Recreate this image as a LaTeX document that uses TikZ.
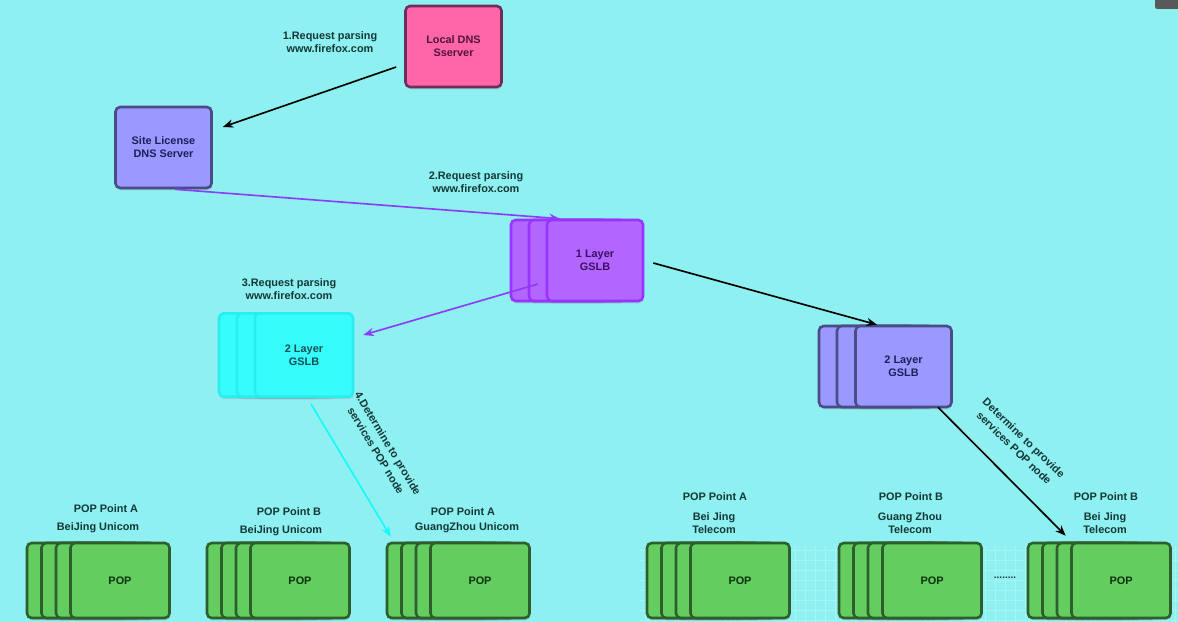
\documentclass[tikz,border=0pt]{standalone}
\usepackage{fontspec}
\setmainfont{Liberation Sans}
\usetikzlibrary{arrows.meta,calc,shadows}
\definecolor{bg}{RGB}{142,240,240}
\definecolor{gridc}{RGB}{165,245,245}
\definecolor{pinkf}{RGB}{255,102,168}
\definecolor{pinkd}{RGB}{110,45,90}
\definecolor{pinkt}{RGB}{80,20,60}
\definecolor{bluef}{RGB}{153,153,255}
\definecolor{blued}{RGB}{75,75,135}
\definecolor{bluet}{RGB}{30,30,90}
\definecolor{purf}{RGB}{178,102,255}
\definecolor{purd}{RGB}{153,51,255}
\definecolor{purt}{RGB}{60,15,100}
\definecolor{cyanf}{RGB}{55,252,252}
\definecolor{cyand}{RGB}{40,238,242}
\definecolor{cyant}{RGB}{20,80,80}
\definecolor{greenf}{RGB}{100,205,95}
\definecolor{greend}{RGB}{45,95,45}
\definecolor{greent}{RGB}{15,50,15}
\definecolor{lbl}{RGB}{20,55,55}
\definecolor{arrp}{RGB}{140,60,250}
\definecolor{arrc}{RGB}{20,250,250}
\begin{document}
\begin{tikzpicture}[x=0.03cm,y=-0.03cm,
  font=\fontsize{9.3}{11}\selectfont\bfseries,
  box/.style={draw, line width=2.2pt, rounded corners=4pt, align=center,
    minimum width=2.88cm, minimum height=2.43cm, inner sep=2pt,
    drop shadow={opacity=0.25, shadow xshift=0.6pt, shadow yshift=-2pt}},
  pinkbox/.style={box, fill=pinkf, draw=pinkd, text=pinkt},
  bluebox/.style={box, fill=bluef, draw=blued, text=bluet},
  purbox/.style={box, fill=purf, draw=purd, text=purt},
  cyanbox/.style={box, fill=cyanf, draw=cyand, text=cyant, minimum width=2.94cm, minimum height=2.5cm},
  popbox/.style={box, fill=greenf, draw=greend, text=greent, minimum width=2.97cm, minimum height=2.25cm},
  lab/.style={text=lbl, align=center, inner sep=1pt},
  rlab/.style={lab, font=\fontsize{9.3}{12}\selectfont\bfseries},
  arr/.style={line width=1.4pt, -{Stealth[length=9pt,width=7pt]}},
]
\useasboundingbox (0,0) rectangle (1178,622);
\begin{scope}
\clip (0,0) rectangle (1178,622);
% background
\fill[bg] (0,0) rectangle (1178,622);
\foreach \gx in {645,655,...,1175} \draw[gridc, line width=0.4pt] (\gx,546) -- (\gx,622);
\foreach \gy in {550,560,...,620} \draw[gridc, line width=0.4pt] (640,\gy) -- (1178,\gy);
\fill[black!65, rounded corners=2pt] (1155,-5) rectangle (1185,9);
\end{scope}

% DNS servers
\node[pinkbox] (ldns) at (453.5,46.5) {Local DNS\\Sserver};
\node[bluebox] (site) at (163.5,147.5) {Site License\\DNS Server};

% 1 Layer GSLB stack
\node[purbox] (l1c) at (559,260.5) {};
\node[purbox] (l1b) at (577,260.5) {};
\node[purbox] (l1a) at (595,260.5) {1 Layer\\GSLB};

% 2 Layer GSLB (cyan) stack
\node[cyanbox] (c2c) at (268,355) {};
\node[cyanbox] (c2b) at (286,355) {};
\node[cyanbox] (c2a) at (304,355) {2 Layer\\GSLB};

% 2 Layer GSLB (right) stack
\node[bluebox] (r2c) at (867,366.5) {};
\node[bluebox] (r2b) at (885,366.5) {};
\node[bluebox] (r2a) at (903.5,366.5) {2 Layer\\GSLB};

% POP stacks
\node[popbox] (p1d) at (76.5,580.5) {};
\node[popbox] (p1c) at (91,580.5) {};
\node[popbox] (p1b) at (105.5,580.5) {};
\node[popbox] (p1a) at (120,580.5) {POP};

\node[popbox] (p2d) at (256.5,580.5) {};
\node[popbox] (p2c) at (271,580.5) {};
\node[popbox] (p2b) at (285.5,580.5) {};
\node[popbox] (p2a) at (300,580.5) {POP};

\node[popbox] (p3d) at (436.5,580.5) {};
\node[popbox] (p3c) at (451,580.5) {};
\node[popbox] (p3b) at (465.5,580.5) {};
\node[popbox] (p3a) at (480,580.5) {POP};

\node[popbox] (p4d) at (696.5,580.5) {};
\node[popbox] (p4c) at (711,580.5) {};
\node[popbox] (p4b) at (725.5,580.5) {};
\node[popbox] (p4a) at (740,580.5) {POP};

\node[popbox] (p5d) at (888.5,580.5) {};
\node[popbox] (p5c) at (903,580.5) {};
\node[popbox] (p5b) at (917.5,580.5) {};
\node[popbox] (p5a) at (932,580.5) {POP};

\node[popbox] (p6d) at (1077.5,580.5) {};
\node[popbox] (p6c) at (1092,580.5) {};
\node[popbox] (p6b) at (1106.5,580.5) {};
\node[popbox] (p6a) at (1121,580.5) {POP};

\node[lab, font=\fontsize{8.5}{9}\selectfont\bfseries] (dots) at (1005,578) {........};

% labels
\node[lab] (t1) at (330,42) {1.Request parsing\\www.firefox.com};
\node[lab] (t2) at (476,182) {2.Request parsing\\www.firefox.com};
\node[lab] (t3) at (289,289) {3.Request parsing\\www.firefox.com};
\node[rlab, rotate=-59] (t4) at (382,447) {4.Determine to provide\\services POP node};
\node[rlab, rotate=-44] (t5) at (1019,443) {Determine to provide\\services POP node};

\node[lab] (q1a) at (106,509) {POP Point A};
\node[lab] (q1b) at (98,528) {BeiJing Unicom};
\node[lab] (q2a) at (289,512) {POP Point B};
\node[lab] (q2b) at (281,531) {BeiJing Unicom};
\node[lab] (q3a) at (463,512) {POP Point A};
\node[lab] (q3b) at (467,528) {GuangZhou Unicom};
\node[lab] (q4a) at (715,497) {POP Point A};
\node[lab] (q4b) at (714,523.5) {Bei Jing\\Telecom};
\node[lab] (q5a) at (911,497) {POP Point B};
\node[lab] (q5b) at (910,523.5) {Guang Zhou\\Telecom};
\node[lab] (q6a) at (1106,497) {POP Point B};
\node[lab] (q6b) at (1105,523.5) {Bei Jing\\Telecom};

% connectors
\draw[arr, black] ($(ldns.west)+(-8,20.5)$) -- ($(site.east)+(10,-20.5)$);
\draw[arr, arrp] ($(site.south)+(11.5,0)$) -- ($(l1c.north)+(1,0)$);
\draw[arr, arrp] ($(l1c.center)+(-21,23.5)$) -- ($(c2a.east)+(9,-20)$);
\draw[arr, black] ($(l1a.east)+(9,2.5)$) -- ($(r2a.north)+(-26.5,0)$);
\draw[arr, arrc] ($(c2a.south)+(7,6)$) -- ($(p3d.north west)+(5,-5)$);
\draw[arr, black] ($(r2a.south)+(34.5,-1)$) -- ($(p6a.north west)+(-4.5,-6)$);
\end{tikzpicture}
\end{document}
